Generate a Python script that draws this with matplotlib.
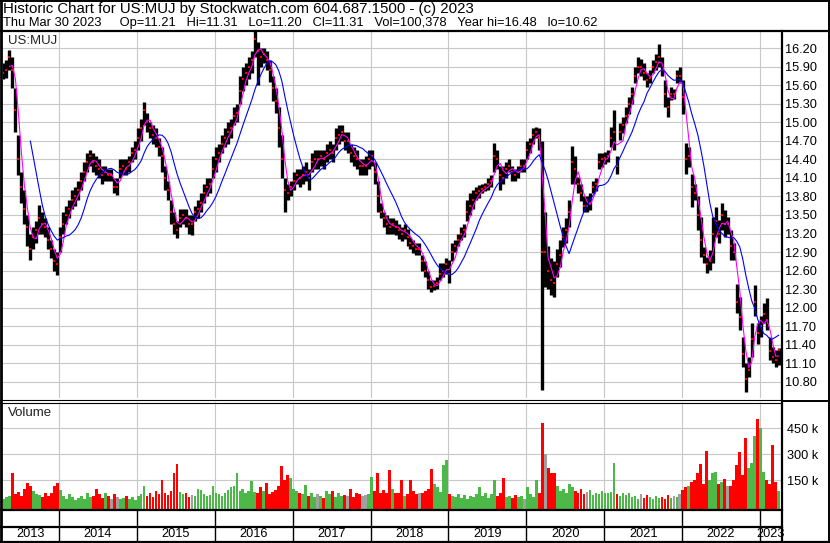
import numpy as np
import pandas as pd
import matplotlib
matplotlib.use('Agg')
import matplotlib.pyplot as plt
from matplotlib.lines import Line2D

plt.rcParams['font.family'] = ['Liberation Sans', 'DejaVu Sans']

# two-week bars, Apr 2013 - Mar 2023
dates = pd.date_range('2013-04-15', '2023-03-30', periods=260)

cl = [15.80, 15.85, 16.05, 15.85, 15.20, 14.40, 13.95, 13.60, 13.30, 12.95,
      13.15, 13.25, 13.45, 13.35, 13.30, 13.10, 12.95, 12.75, 12.70, 13.15,
      13.35, 13.50, 13.60, 13.75, 13.80, 13.90, 14.05, 14.20, 14.35, 14.45,
      14.35, 14.30, 14.25, 14.15, 14.20, 14.15, 14.15, 13.95, 13.95, 14.25,
      14.30, 14.25, 14.35, 14.50, 14.55, 14.75, 14.90, 15.20, 15.00, 14.90,
      14.80, 14.75, 14.60, 14.45, 14.10, 13.90, 13.55, 13.35, 13.25, 13.45,
      13.50, 13.45, 13.35, 13.35, 13.55, 13.60, 13.70, 13.85, 13.95, 14.00,
      14.25, 14.40, 14.50, 14.65, 14.75, 14.85, 14.90, 15.10, 15.15, 15.50,
      15.70, 15.80, 15.90, 16.00, 16.35, 16.15, 16.05, 16.10, 16.00, 15.85,
      15.55, 15.35, 14.90, 14.40, 13.90, 13.85, 13.95, 14.05, 14.15, 14.10,
      14.15, 14.20, 14.10, 14.35, 14.40, 14.40, 14.45, 14.40, 14.50, 14.55,
      14.50, 14.75, 14.80, 14.85, 14.70, 14.70, 14.50, 14.45, 14.40, 14.30,
      14.30, 14.30, 14.40, 14.45, 14.20, 13.80, 13.55, 13.45, 13.35, 13.30,
      13.35, 13.30, 13.25, 13.20, 13.25, 13.15, 13.05, 13.00, 12.95, 12.95,
      12.75, 12.60, 12.45, 12.33, 12.35, 12.40, 12.55, 12.60, 12.70, 12.55,
      12.90, 13.00, 13.10, 13.20, 13.25, 13.55, 13.65, 13.75, 13.85, 13.88,
      13.92, 13.95, 14.00, 14.05, 14.45, 14.40, 14.15, 14.10, 14.25, 14.30,
      14.20, 14.15, 14.20, 14.30, 14.30, 14.55, 14.65, 14.80, 14.85, 14.75,
      12.90, 12.90, 12.60, 12.45, 12.40, 12.70, 12.85, 13.15, 13.25, 13.55,
      14.35, 14.25, 14.00, 13.85, 13.65, 13.65, 13.70, 13.95, 14.00, 14.35,
      14.40, 14.42, 14.45, 14.75, 14.85, 14.30, 14.85, 14.95, 15.10, 15.30,
      15.45, 15.75, 15.90, 15.90, 15.80, 15.68, 15.72, 15.90, 15.98, 16.05,
      15.85, 15.45, 15.25, 15.45, 15.45, 15.75, 15.75, 15.40, 14.40, 14.45,
      13.95, 13.85, 13.50, 13.10, 12.85, 12.70, 12.75, 13.20, 13.40, 13.20,
      13.50, 13.35, 13.35, 13.00, 12.90, 12.10, 11.85, 11.25, 10.85, 11.00,
      11.50, 12.10, 11.60, 11.70, 11.90, 11.80, 11.30, 11.20, 11.15, 11.31]

hi = [15.95, 16.00, 16.17, 16.05, 15.55, 14.80, 14.20, 13.90, 13.50, 13.20,
      13.30, 13.40, 13.66, 13.55, 13.45, 13.30, 13.10, 12.95, 12.90, 13.30,
      13.55, 13.65, 13.75, 13.90, 13.95, 14.05, 14.20, 14.35, 14.50, 14.55,
      14.50, 14.45, 14.40, 14.30, 14.30, 14.25, 14.25, 14.10, 14.10, 14.40,
      14.40, 14.40, 14.45, 14.60, 14.70, 14.90, 15.05, 15.33, 15.15, 15.00,
      14.95, 14.90, 14.75, 14.60, 14.30, 14.05, 13.75, 13.55, 13.40, 13.60,
      13.60, 13.60, 13.50, 13.50, 13.65, 13.75, 13.85, 14.00, 14.10, 14.10,
      14.45, 14.60, 14.65, 14.80, 14.90, 15.00, 15.05, 15.25, 15.30, 15.75,
      15.90, 15.95, 16.05, 16.15, 16.48, 16.30, 16.20, 16.20, 16.15, 16.00,
      15.75, 15.55, 15.25, 14.80, 14.10, 14.00, 14.05, 14.20, 14.25, 14.25,
      14.30, 14.35, 14.25, 14.50, 14.55, 14.55, 14.55, 14.55, 14.65, 14.70,
      14.65, 14.90, 14.95, 14.95, 14.85, 14.85, 14.65, 14.60, 14.55, 14.40,
      14.40, 14.45, 14.55, 14.55, 14.35, 14.05, 13.70, 13.55, 13.50, 13.45,
      13.45, 13.42, 13.35, 13.30, 13.35, 13.28, 13.15, 13.10, 13.05, 13.05,
      12.85, 12.75, 12.60, 12.45, 12.45, 12.50, 12.72, 12.72, 12.80, 12.77,
      13.05, 13.10, 13.20, 13.30, 13.35, 13.75, 13.85, 13.90, 13.95, 13.98,
      14.00, 14.02, 14.10, 14.15, 14.66, 14.55, 14.30, 14.30, 14.35, 14.40,
      14.30, 14.25, 14.30, 14.40, 14.40, 14.70, 14.75, 14.90, 14.93, 14.90,
      14.70, 13.55, 13.00, 12.80, 12.75, 12.95, 13.10, 13.30, 13.45, 13.75,
      14.62, 14.45, 14.12, 14.00, 13.80, 13.80, 13.85, 14.05, 14.10, 14.50,
      14.50, 14.52, 14.55, 14.92, 15.20, 14.45, 14.98, 15.09, 15.25, 15.41,
      15.57, 15.90, 16.06, 16.02, 15.95, 15.79, 15.84, 16.00, 16.10, 16.27,
      16.06, 15.68, 15.41, 15.57, 15.54, 15.84, 15.90, 15.68, 14.66, 14.60,
      14.17, 14.00, 13.80, 13.47, 12.99, 12.82, 12.93, 13.47, 13.63, 13.42,
      13.69, 13.58, 13.47, 13.26, 13.04, 12.39, 12.18, 11.53, 11.10, 11.20,
      11.75, 12.37, 11.75, 11.86, 12.07, 12.16, 11.53, 11.37, 11.32, 11.35]

lo = [15.70, 15.72, 15.85, 15.55, 14.85, 14.15, 13.70, 13.35, 13.00, 12.77,
      12.95, 13.05, 13.20, 13.20, 13.15, 12.95, 12.80, 12.60, 12.53, 12.90,
      13.20, 13.35, 13.45, 13.60, 13.65, 13.75, 13.90, 14.05, 14.20, 14.30,
      14.20, 14.15, 14.10, 14.00, 14.05, 14.05, 14.05, 13.85, 13.82, 14.10,
      14.15, 14.15, 14.20, 14.35, 14.40, 14.55, 14.70, 14.95, 14.85, 14.75,
      14.65, 14.60, 14.45, 14.20, 13.90, 13.75, 13.35, 13.20, 13.13, 13.30,
      13.35, 13.30, 13.20, 13.18, 13.40, 13.45, 13.55, 13.70, 13.80, 13.85,
      14.10, 14.20, 14.35, 14.50, 14.60, 14.65, 14.75, 14.95, 15.00, 15.30,
      15.50, 15.60, 15.70, 15.80, 16.05, 15.60, 15.90, 15.95, 15.85, 15.65,
      15.35, 15.15, 14.60, 14.10, 13.55, 13.75, 13.80, 13.90, 14.00, 13.95,
      14.00, 14.05, 13.90, 14.20, 14.25, 14.25, 14.30, 14.25, 14.35, 14.40,
      14.35, 14.55, 14.65, 14.70, 14.55, 14.50, 14.35, 14.30, 14.25, 14.15,
      14.15, 14.15, 14.25, 14.30, 14.00, 13.55, 13.45, 13.30, 13.20, 13.20,
      13.20, 13.18, 13.12, 13.08, 13.12, 13.00, 12.95, 12.88, 12.85, 12.85,
      12.60, 12.50, 12.30, 12.26, 12.28, 12.30, 12.45, 12.50, 12.55, 12.40,
      12.75, 12.90, 13.00, 13.10, 13.15, 13.40, 13.50, 13.60, 13.75, 13.78,
      13.85, 13.88, 13.90, 13.95, 14.20, 14.25, 13.90, 14.00, 14.10, 14.20,
      14.05, 14.05, 14.10, 14.20, 14.20, 14.40, 14.50, 14.65, 14.75, 14.55,
      10.67, 12.33, 12.30, 12.20, 12.17, 12.50, 12.66, 12.98, 13.05, 13.30,
      14.00, 14.00, 13.85, 13.72, 13.55, 13.55, 13.58, 13.85, 13.88, 14.25,
      14.28, 14.33, 14.35, 14.60, 14.55, 14.17, 14.71, 14.82, 14.98, 15.14,
      15.30, 15.63, 15.79, 15.74, 15.68, 15.57, 15.63, 15.79, 15.84, 15.90,
      15.74, 15.25, 15.09, 15.36, 15.38, 15.63, 15.63, 15.14, 14.17, 14.28,
      13.63, 13.74, 13.26, 12.82, 12.72, 12.56, 12.61, 12.72, 13.15, 13.05,
      13.26, 13.15, 13.20, 12.77, 12.77, 11.91, 11.64, 11.05, 10.64, 10.88,
      11.20, 11.86, 11.42, 11.53, 11.75, 11.64, 11.15, 11.10, 11.05, 11.08]

# volume in thousands
vol = [40, 55, 60, 192, 70, 85, 60, 100, 133, 120,
       90, 70, 65, 55, 80, 60, 75, 120, 133, 95,
       60, 45, 70, 55, 35, 50, 60, 45, 75, 55,
       60, 100, 70, 50, 80, 60, 45, 70, 55, 40,
       50, 60, 45, 55, 35, 60, 70, 115, 60, 75,
       55, 90, 70, 150, 80, 65, 90, 190, 242, 85,
       70, 80, 55, 65, 60, 100, 95, 70, 60, 65,
       115, 80, 70, 60, 75, 95, 110, 120, 190, 90,
       100, 80, 90, 145, 85, 75, 110, 90, 133, 70,
       85, 95, 120, 231, 150, 180, 164, 100, 90, 80,
       70, 125, 60, 80, 55, 70, 60, 50, 90, 70,
       90, 55, 75, 60, 65, 60, 100, 55, 75, 70,
       60, 65, 70, 167, 90, 190, 80, 95, 80, 208,
       100, 75, 80, 150, 60, 70, 150, 90, 70, 80,
       75, 90, 100, 213, 127, 110, 85, 237, 265, 70,
       60, 55, 70, 50, 65, 45, 60, 55, 70, 110,
       60, 75, 50, 70, 150, 60, 80, 165, 55, 60,
       50, 65, 55, 60, 45, 110, 70, 55, 155, 80,
       480, 300, 219, 190, 190, 120, 90, 100, 80, 132,
       110, 90, 75, 100, 70, 85, 95, 65, 80, 70,
       90, 75, 80, 85, 248, 70, 60, 80, 65, 75,
       55, 60, 45, 70, 50, 65, 55, 45, 60, 50,
       55, 45, 65, 50, 60, 55, 70, 92, 110, 120,
       140, 150, 190, 242, 130, 317, 150, 190, 200, 130,
       140, 160, 120, 115, 150, 237, 312, 180, 392, 220,
       250, 404, 502, 450, 200, 150, 130, 352, 140, 90]

price_ticks = np.arange(10.80, 16.21, 0.30)
vol_ticks = [150, 300, 450]
years = list(range(2013, 2024))

W, H = 830, 543
GRID = '#c8c8c8'


def box(x0, y0, x1, y1):
    return [x0 / W, 1 - y1 / H, (x1 - x0) / W, (y1 - y0) / H]


def hline(y, x0, x1, lw=1.4):
    fig.add_artist(Line2D([x0 / W, x1 / W], [1 - y / H, 1 - y / H],
                          transform=fig.transFigure, color='black', lw=lw))


def vline(x, y0, y1, lw=1.4):
    fig.add_artist(Line2D([x / W, x / W], [1 - y0 / H, 1 - y1 / H],
                          transform=fig.transFigure, color='black', lw=lw))


fig = plt.figure(figsize=(8.3, 5.43), dpi=100)
xlim = (pd.Timestamp('2013-04-13'), pd.Timestamp('2023-04-10'))
year_starts = [pd.Timestamp(f'{y}-01-01') for y in years[1:]]

# price panel
ax = fig.add_axes(box(3, 32, 781, 398))
s = pd.Series(cl)
ma_fast = s.rolling(3).mean()
ma_slow = s.rolling(10).mean()
ax.vlines(dates, lo, hi, color='black', lw=2.4, zorder=2)
ax.scatter(dates, cl, marker='s', s=1.0, color='red', lw=0, zorder=3)
ax.plot(dates, ma_fast, color='#ff00ff', lw=0.8, zorder=4)
ax.plot(dates, ma_slow, color='#0000ff', lw=0.8, zorder=4)
ax.set_xlim(xlim)
ax.set_ylim(10.541, 16.459)
ax.set_xticks(year_starts)
ax.set_yticks(price_ticks)
ax.set_yticklabels([f'{v:.2f}' for v in price_ticks])
ax.yaxis.tick_right()
ax.tick_params(axis='y', length=0, pad=3, labelsize=9.2)
ax.tick_params(axis='x', length=0, labelbottom=False)
ax.grid(True, color=GRID, lw=0.8)
ax.set_axisbelow(True)
for sp in ax.spines.values():
    sp.set_visible(False)
ax.text(0.0064, 0.975, 'US:MUJ', transform=ax.transAxes, fontsize=9.5,
        va='center', ha='left', color='#222222')

# volume panel
axv = fig.add_axes(box(3, 402, 781, 509))
colors = []
for i, c in enumerate(cl):
    if i == 0 or c > cl[i - 1]:
        colors.append('#4cb848')
    elif c < cl[i - 1]:
        colors.append('#ff0000')
    else:
        colors.append('#a0a0a0')
vbase = -15
axv.bar(dates, np.array(vol) - vbase, bottom=vbase, width=13,
        color=colors, lw=0, zorder=2)
axv.set_xlim(xlim)
axv.set_ylim(vbase, 602)
axv.set_xticks(year_starts)
axv.set_yticks(vol_ticks)
axv.set_yticklabels([f'{v} k' for v in vol_ticks])
axv.yaxis.tick_right()
axv.tick_params(axis='y', length=0, pad=4, labelsize=9.2)
axv.tick_params(axis='x', length=0, labelbottom=False)
axv.grid(True, color=GRID, lw=0.8)
axv.set_axisbelow(True)
for sp in axv.spines.values():
    sp.set_visible(False)
axv.text(0.0064, 0.897, 'Volume', transform=axv.transAxes, fontsize=9.5,
         va='center', ha='left', color='#222222')

# year strip
axy = fig.add_axes(box(3, 510, 781, 541))
axy.set_xlim(xlim)
axy.set_ylim(0, 1)
axy.axis('off')
for ys in year_starts:
    axy.axvline(ys, color='black', lw=1.0)
for y in years:
    a = max(pd.Timestamp(f'{y}-01-01'), xlim[0])
    b = min(pd.Timestamp(f'{y + 1}-01-01'), xlim[1])
    axy.text(a + (b - a) / 2, 0.226, str(y), ha='center', va='center',
             fontsize=9.2)

# frame lines
hline(0.5, 0, 830, 1.4)
hline(31, 0, 830, 1.6)
hline(400, 0, 782, 0.8)
hline(402.5, 0, 782, 0.8)
hline(401, 782, 830, 1.4)
hline(510, 0, 782, 1.6)
hline(527, 0, 782, 1.6)
hline(541.5, 0, 830, 1.6)
vline(1, 0, 543, 2.0)
vline(782, 31, 541, 1.6)
vline(829, 0, 543, 1.4)

fig.text(3 / W, 1 - 9.5 / H,
         'Historic Chart for US:MUJ by Stockwatch.com 604.687.1500 - (c) 2023',
         fontsize=10.8, va='center', ha='left')
fig.text(3 / W, 1 - 23 / H,
         'Thu Mar 30 2023     Op=11.21   Hi=11.31   Lo=11.20   Cl=11.31   '
         'Vol=100,378   Year hi=16.48   lo=10.62',
         fontsize=9.3, va='center', ha='left')

fig.savefig('out.png', dpi=100)
